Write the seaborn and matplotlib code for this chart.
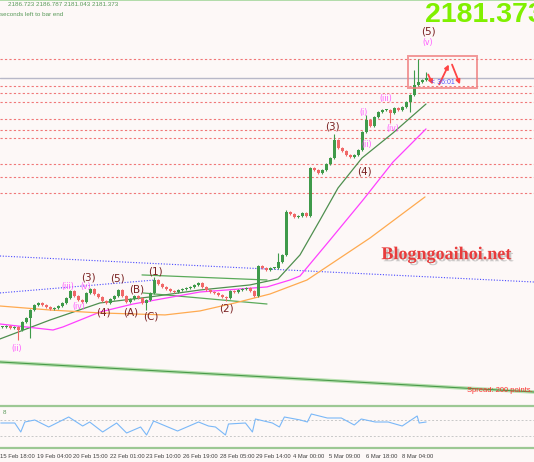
import numpy as np
import pandas as pd
import seaborn as sns
from matplotlib import pyplot as plt
from matplotlib import patheffects as pe
from matplotlib.patches import Rectangle

sns.set_theme(style='white')
plt.rcParams['font.family'] = ['Liberation Sans', 'DejaVu Sans']

# close of each (aggregated) bar, left to right
closes = [
    1994.8, 1995.5, 1994.0, 1994.8, 1992.5, 1998.5, 2001.5, 2007.5, 2011.3, 2012.8,
    2011.3, 2009.8, 2008.3, 2009.0, 2010.5, 2012.8, 2016.5, 2021.8, 2018.0, 2015.0,
    2013.5, 2020.3, 2023.3, 2019.5, 2017.3, 2014.3, 2012.8, 2015.8, 2018.0, 2022.5,
    2018.0, 2013.5, 2015.8, 2018.0, 2016.5, 2012.8, 2015.0, 2020.3, 2030.0, 2027.0,
    2024.8, 2023.3, 2021.8, 2021.0, 2022.5, 2023.3, 2024.0, 2024.8, 2026.3, 2027.8,
    2024.8, 2022.5, 2021.0, 2020.3, 2018.8, 2017.3, 2016.5, 2021.8, 2021.0, 2022.5,
    2023.3, 2024.0, 2021.8, 2018.0, 2040.5, 2039.0, 2037.5, 2039.0, 2039.0, 2043.5,
    2048.8, 2081.0, 2079.5, 2077.3, 2078.0, 2080.3, 2078.0, 2114.0, 2112.5, 2110.3,
    2112.5, 2117.0, 2121.5, 2135.0, 2129.0, 2126.8, 2123.8, 2122.3, 2123.8, 2127.5,
    2141.0, 2150.0, 2145.5, 2152.3, 2156.0, 2157.5, 2157.5, 2155.3, 2159.0, 2157.5,
    2159.8, 2163.5, 2168.8, 2176.3, 2178.5, 2180.0, 2181.4,
]
# long wicks (bar -> price)
wick_hi = {38: 2032.0, 69: 2050.0, 71: 2082.5, 83: 2139.5, 91: 2153.8,
           103: 2187.5, 104: 2195.8, 106: 2186.0}
wick_lo = {4: 1985.0, 7: 1986.5, 36: 2007.5, 56: 2014.0, 97: 2147.8, 102: 2156.0}

# moving averages (bar, price)
ma_green_x = [-0.5, 12, 24.5, 37, 49.5, 62, 69, 74.5, 79.5, 84, 90, 97.75, 106]
ma_green_y = [1985.8, 2000, 2012.8, 2017.3, 2022.5, 2026.3, 2030.8, 2048.8, 2075, 2099, 2121.5, 2140.3, 2162]
ma_pink_x = [-0.5, 12.75, 15.25, 24.5, 32.75, 49.5, 66.25, 72, 74.5, 82, 90.25, 97.75, 106]
ma_pink_y = [1997, 1992.5, 1994.8, 2006, 2012, 2021, 2024.8, 2030, 2033, 2060, 2090, 2118.5, 2143.3]
ma_orange_x = [-0.5, 12, 24.5, 40.75, 49.5, 58.25, 67, 76.25, 92, 105.75]
ma_orange_y = [2010.5, 2007.5, 2005.3, 2003.8, 2006.8, 2012.8, 2019.5, 2030, 2061.5, 2092.3]

# levels and trend lines
levels = [2195.8, 2175.5, 2170.3, 2163.5, 2150.8, 2142.5, 2136.5, 2117.0, 2107.3, 2095.3]
last_price = 2181.373
blue_lines = [((-0.5, 133), (2048.0, 2028.5)), ((-0.5, 38.25), (2020.3, 2030.0))]
green_lines = [((35, 66.25), (2033.8, 2030.0)), ((35.25, 66.25), (2020.3, 2012.0))]
long_line = ((-0.5, 133), (1968.5, 1946.0))

wave_brown = [('(3)', 21.5, 2031.5), ('(4)', 25.25, 2005.3), ('(5)', 28.75, 2030.8),
              ('(A)', 32.25, 2005.3), ('(B)', 33.75, 2022.5), ('(C)', 37.25, 2002.3),
              ('(1)', 38.25, 2036.0), ('(2)', 56, 2008.3), ('(3)', 82.5, 2144.8),
              ('(4)', 90.5, 2111.0), ('(5)', 106.5, 2216.0)]
wave_pink = [('(ii)', 3.75, 1978.3), ('(iii)', 16.5, 2025.5), ('(iv)', 19.25, 2009.8),
             ('(v)', 21, 2025.5), ('(i)', 90.5, 2156.0), ('(ii)', 91.25, 2132.0),
             ('(iii)', 96, 2166.5), ('(iv)', 97.75, 2144.0), ('(v)', 106.5, 2208.5)]

# oscillator in lower window
rsi_x = [-0.5, 3, 4.5, 5.5, 8, 11.5, 16.5, 20, 21.75, 25, 28.5, 31, 34.5, 36, 37.75, 43.75,
         49, 51.5, 53.25, 55.75, 56.5, 60.75, 62.5, 63.25, 67.5, 69.25, 70.5, 74.5, 76.25,
         77.25, 81.25, 84.75, 88, 89.75, 93.25, 96.5, 100, 103.75, 104.25, 106]
rsi_y = [62.5, 62.5, 40, 65, 70, 52.5, 77.5, 55, 65, 40, 62.5, 37.5, 52.5, 32.5, 67.5, 42.5,
         65, 55, 52.5, 32.5, 60, 62.5, 40, 72.5, 62.5, 52.5, 77.5, 70, 65, 85, 75, 75,
         57.5, 72.5, 65, 65, 55, 80, 62.5, 65]

tick_labels = ['15 Feb 18:00', '19 Feb 04:00', '20 Feb 15:00', '22 Feb 01:00', '23 Feb 10:00',
               '26 Feb 19:00', '28 Feb 05:00', '29 Feb 14:00', '4 Mar 00:00', '5 Mar 09:00',
               '6 Mar 18:00', '8 Mar 04:00']
ohlc_text = '2186.723 2186.787 2181.043 2181.373'

bg = '#fdf8f7'
fig = plt.figure(figsize=(5.34, 4.62), dpi=100, facecolor=bg)
ax = fig.add_axes([0, 56 / 462, 1, 406 / 462], facecolor=bg)
ax.set_xlim(-0.5, 133)
ax.set_ylim(1935.5, 2240)
for s in ax.spines.values():
    s.set_visible(False)
ax.spines['top'].set_visible(True)
ax.spines['top'].set_color('#a8d8a0')
ax.set_xticks([])
ax.set_yticks([])

for lv in levels:
    ax.axhline(lv, color='#f07878', lw=0.8, ls=(0, (2, 2)), zorder=1)
ax.axhline(last_price, color='#b8b8c8', lw=1.0, zorder=1)
for xs, ys in blue_lines:
    ax.plot(xs, ys, color='#4848ff', lw=0.8, ls=(0, (1, 1.5)), zorder=1)
ax.plot(*long_line, color='#b8e0b0', lw=2.6, zorder=1)
ax.plot(*long_line, color='#4a9a4a', lw=0.8, zorder=1)
for xs, ys in green_lines:
    ax.plot(xs, ys, color='#5aaa5a', lw=0.9, zorder=2)

ma = pd.concat([
    pd.DataFrame({'bar': ma_green_x, 'price': ma_green_y, 'ma': 'fast'}),
    pd.DataFrame({'bar': ma_pink_x, 'price': ma_pink_y, 'ma': 'mid'}),
    pd.DataFrame({'bar': ma_orange_x, 'price': ma_orange_y, 'ma': 'slow'}),
])
sns.lineplot(data=ma, x='bar', y='price', hue='ma', estimator=None, sort=False,
             palette={'fast': '#4f8f4f', 'mid': '#ff40ff', 'slow': '#ffaa50'},
             linewidth=0.9, legend=False, ax=ax, zorder=3)
ax.set_xlabel('')
ax.set_ylabel('')

# candles
c = np.array(closes)
o = np.concatenate([[c[0]], c[:-1]])
idx = np.arange(len(c))
hi = np.maximum(o, c) + 1.0
lo = np.minimum(o, c) - 1.0
for k, v in wick_hi.items():
    hi[k] = v
for k, v in wick_lo.items():
    lo[k] = v
up = c >= o
cols = np.where(up, '#3f9a4a', '#f06868')
ax.vlines(idx, lo, hi, colors=cols, lw=0.8, zorder=4)
ax.bar(idx, np.maximum(np.abs(c - o), 0.7), bottom=np.minimum(o, c), width=0.75,
       color=cols, linewidth=0, zorder=5)

for t, x, y in wave_brown:
    ax.text(x, y, t, color='#7a2222', fontsize=7.5, ha='center', va='center', zorder=6,
            family='DejaVu Sans')
for t, x, y in wave_pink:
    ax.text(x, y, t, color='#ff55ff', fontsize=5.5, ha='center', va='center', zorder=6,
            family='DejaVu Sans')

# box and projection arrows
ax.add_patch(Rectangle((101.5, 2174), 17.25, 24, fill=False, ec='#f08080', lw=1.4, alpha=0.8, zorder=6))
for (x0, y0), (x1, y1) in [((106.25, 2186), (108, 2174.8)), ((109, 2174.8), (112, 2193.5)),
                           ((112.25, 2193.5), (114.75, 2174.8))]:
    ax.annotate('', xy=(x1, y1), xytext=(x0, y0),
                arrowprops=dict(arrowstyle='-|>', color='#ff4444', lw=1.3, mutation_scale=6), zorder=7)
ax.text(107.3, 2178.3, '< 36:01', color='#5555ff', fontsize=5, va='center', zorder=7)

ax.text(111, 2049, 'Blogngoaihoi.net', family='Liberation Serif', weight='bold', fontsize=13,
        color='#e83c3c', ha='center', va='center', zorder=6,
        path_effects=[pe.withSimplePatchShadow(offset=(1.5, -1.5), shadow_rgbFace='#999999', alpha=0.5)])
ax.text(116.3, 1947.5, 'Spread: 200 points.', color='#ff3030', fontsize=5.4, va='center', zorder=6)

# lower window
ax2 = fig.add_axes([0, 14 / 462, 1, 42 / 462], facecolor=bg)
ax2.set_xlim(-0.5, 133)
ax2.set_ylim(0, 105)
for s in ['left', 'right']:
    ax2.spines[s].set_visible(False)
for s in ['top', 'bottom']:
    ax2.spines[s].set_color('#9cc894')
    ax2.spines[s].set_linewidth(1.6)
ax2.axhline(70, color='#c8c8c8', lw=0.7, ls=(0, (2, 2)))
ax2.axhline(30, color='#c8c8c8', lw=0.7, ls=(0, (2, 2)))
sns.lineplot(x=rsi_x, y=rsi_y, color='#7ab8f8', linewidth=0.8, ax=ax2, estimator=None)
ax2.set_yticks([])
ax2.text(0, 95, '8', color='#5a9a5a', fontsize=4.5, va='top')
ticks = [(36.64 * k - 0.8 - 2) / 4 for k in range(len(tick_labels))]
ax2.set_xticks(ticks)
ax2.set_xticklabels(tick_labels, fontsize=4.2, color='#404040', ha='left')
ax2.tick_params(axis='x', direction='out', length=3, width=0.6, color='#5a9a5a', pad=1)

fig.text(8 / 534, 1 - 5 / 462, ohlc_text, fontsize=4.5, color='#5a9a5a', va='center')
fig.text(0, 1 - 14 / 462, 'seconds left to bar end', fontsize=4.5, color='#5a9a5a', va='center')
fig.text(425 / 534, 1 - 15 / 462, '2181.373', fontsize=20.5, weight='bold', color='#80f000', va='center')

fig.savefig('out.png', dpi=100, facecolor=bg)
